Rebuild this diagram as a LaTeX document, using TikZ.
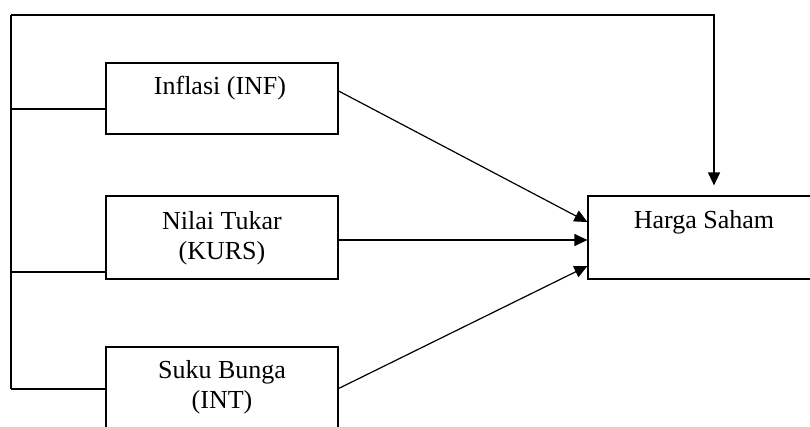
\documentclass[tikz,border=0pt]{standalone}
\usepackage{fontspec}
\setmainfont{Liberation Serif}
\usetikzlibrary{arrows.meta}
\begin{document}
\begin{tikzpicture}[x=1pt,y=-1pt,
  box/.style={draw=black,line width=1.2pt,rectangle,inner sep=0pt,minimum width=232pt},
  lbl/.style={inner sep=0pt,align=center,font=\fontsize{26}{30}\selectfont},
  conn/.style={draw=black,line width=1.2pt},
  arr/.style={conn,-{Triangle[length=13pt,width=12pt]}}]
\path[use as bounding box,clip] (0,0) rectangle (810,426);
\fill[white] (0,0) rectangle (810,426);
% boxes
\node[box,minimum height=71pt] (inf) at (222,98.5) {};
\node[box,minimum height=83pt] (kurs) at (222,237.5) {};
\node[box,minimum height=83pt] (intr) at (222,388.5) {};
\node[box,minimum height=83pt,minimum width=272pt] (harga) at (724,237.5) {};
% labels
\node[lbl] (tinf) at (220,88) {Inflasi (INF)};
\node[lbl] (tkurs) at (222,238) {Nilai Tukar\\(KURS)};
\node[lbl] (tintr) at (222,387) {Suku Bunga\\(INT)};
\node[lbl] (tharga) at (704,222) {Harga Saham};
% left frame
\coordinate (tl) at (11,15);
\coordinate (tr) at (714,15);
\coordinate (j1) at (11,109);
\coordinate (j2) at (11,272);
\coordinate (j3) at (11,389);
\coordinate (hd) at ([yshift=10pt]harga.north -| tr);
\draw[conn] (j3) -- (tl);
\draw[arr] (tl) -- (tr) -- (hd);
\draw[conn] (j1) -- (j1 -| inf.west);
\draw[conn] (j2) -- (j2 -| kurs.west);
\draw[conn] (j3) -- (j3 -| intr.west);
% arrows to Harga Saham
\draw[arr] ([yshift=7.5pt]inf.east) -- ([yshift=15.5pt]harga.west);
\draw[arr] ([yshift=-2.5pt]kurs.east) -- ([yshift=-2.5pt]harga.west);
\draw[arr] (intr.east) -- ([yshift=-28.5pt]harga.west);
\end{tikzpicture}
\end{document}
